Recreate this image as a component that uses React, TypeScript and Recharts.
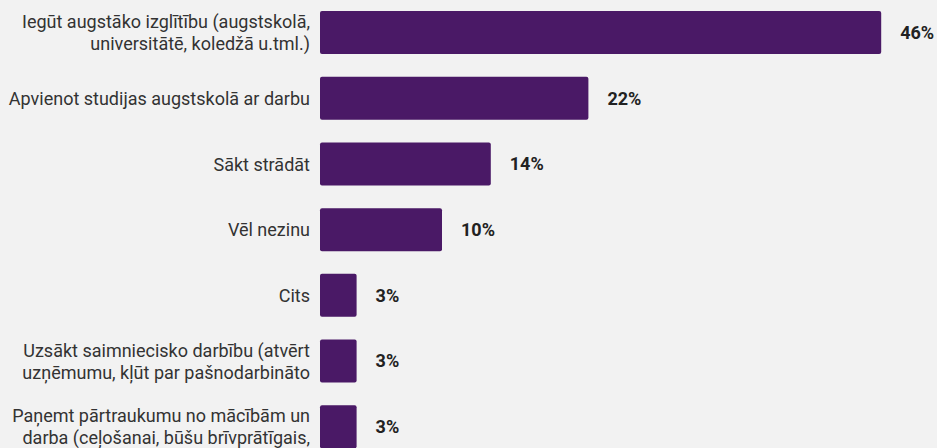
import React from "react";
import { BarChart, Bar, XAxis, YAxis, LabelList } from "recharts";

const categories = [
  "Iegūt augstāko izglītību (augstskolā, universitātē, koledžā u.tml.)",
  "Apvienot studijas augstskolā ar darbu",
  "Sākt strādāt",
  "Vēl nezinu",
  "Cits",
  "Uzsākt saimniecisko darbību (atvērt uzņēmumu, kļūt par pašnodarbināto",
  "Paņemt pārtraukumu no mācībām un darba (ceļošanai, būšu brīvprātīgais,",
];
const categoryLines = [
  ["Iegūt augstāko izglītību (augstskolā,", "universitātē, koledžā u.tml.)"],
  ["Apvienot studijas augstskolā ar darbu"],
  ["Sākt strādāt"],
  ["Vēl nezinu"],
  ["Cits"],
  ["Uzsākt saimniecisko darbību (atvērt", "uzņēmumu, kļūt par pašnodarbināto"],
  ["Paņemt pārtraukumu no mācībām un", "darba (ceļošanai, būšu brīvprātīgais,"],
];
const values = [46, 22, 14, 10, 3, 3, 3];

const data = categories.map((name, i) => ({ name, value: values[i] }));

const FONT = "Roboto, 'Noto Sans', sans-serif";

const Tick = (props: any) => {
  const { x, y, payload } = props;
  const i = categories.indexOf(payload.value);
  const lines = i >= 0 ? categoryLines[i] : [String(payload.value)];
  const lh = 22;
  const start = -((lines.length - 1) * lh) / 2;
  return (
    <text x={x} y={y} textAnchor="end" fill="#333" fontSize={18} fontFamily={FONT}>
      {lines.map((l, k) => (
        <tspan key={k} x={x} y={y + start + k * lh} dy="0.35em">
          {l}
        </tspan>
      ))}
    </text>
  );
};

export default function App() {
  return (
    <div
      style={{
        position: "absolute",
        left: 0,
        top: 0,
        width: 937,
        height: 448,
        overflow: "hidden",
        background: "#f2f2f2",
      }}
    >
      <BarChart
        width={937}
        height={460}
        data={data}
        layout="vertical"
        margin={{ top: 0, right: 7, bottom: 0, left: 0 }}
      >
        <XAxis type="number" domain={[0, 50]} hide />
        <YAxis
          type="category"
          dataKey="name"
          width={320}
          axisLine={false}
          tickLine={false}
          tickMargin={4}
          tick={<Tick />}
          interval={0}
        />
        <Bar dataKey="value" fill="#4a1966" barSize={43} radius={2} isAnimationActive={false}>
          <LabelList
            dataKey="value"
            position="right"
            offset={19}
            formatter={(v: any) => `${v}%`}
            fill="#222"
            fontSize={18}
            fontWeight={700}
            fontFamily={FONT}
          />
        </Bar>
      </BarChart>
    </div>
  );
}
